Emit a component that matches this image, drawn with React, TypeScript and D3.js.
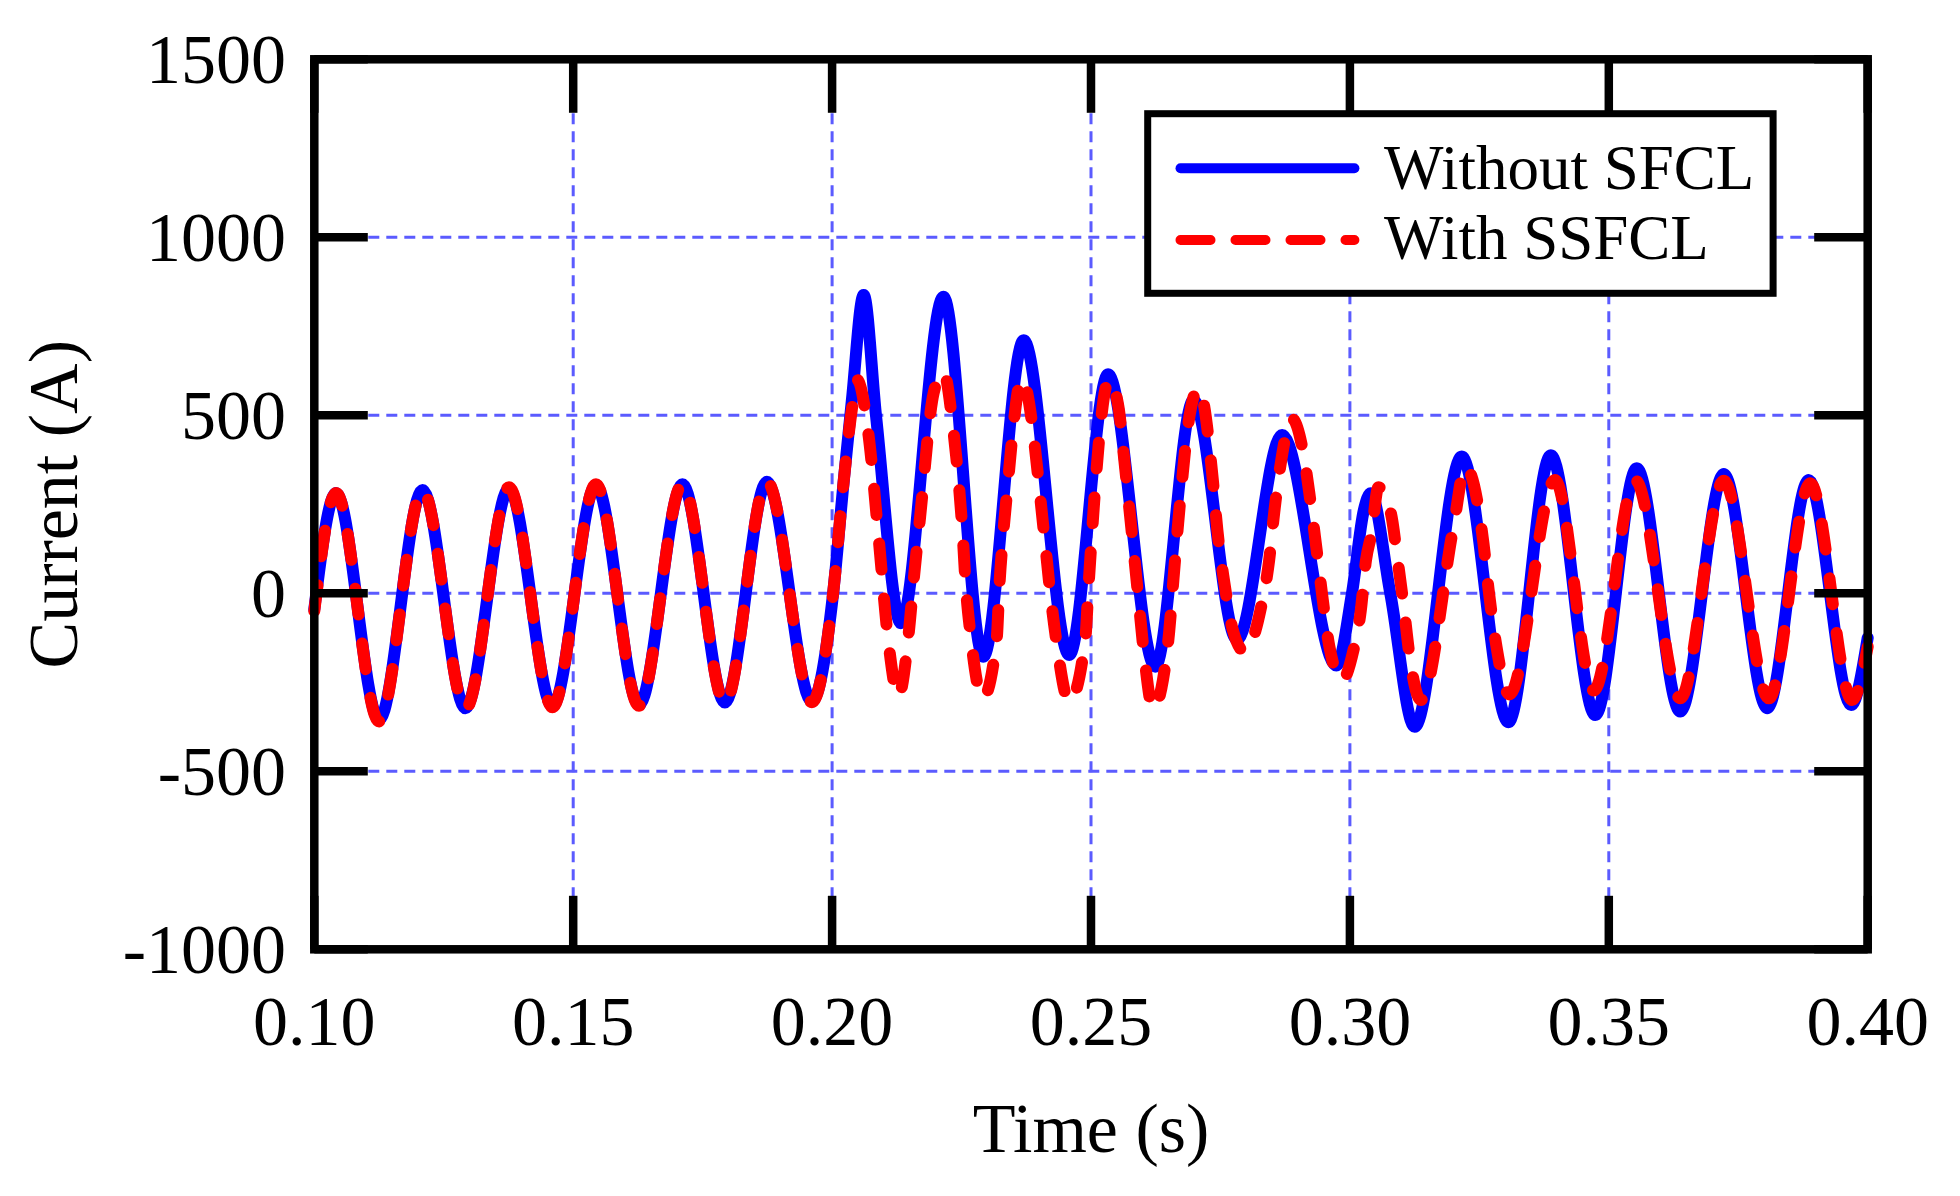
import * as d3 from "d3";

// time (s) / current (A)
const timeWithout = [
  0.1, 0.1042, 0.1125, 0.1209, 0.1292, 0.1376, 0.146, 0.1544, 0.1627, 0.1711, 0.1793, 0.1874, 0.1961,
  0.2002, 0.2022, 0.2038, 0.2061, 0.2085, 0.2133, 0.2215, 0.2292, 0.237, 0.2458, 0.2533, 0.2624, 0.2698,
  0.2782, 0.2869, 0.2974, 0.3004, 0.3027, 0.304, 0.3078, 0.3125, 0.3216, 0.3306, 0.3388, 0.3474, 0.3554,
  0.3638, 0.3722, 0.3806, 0.3886, 0.3968, 0.4,
];
const currentWithout = [
  -45, 282, -356, 290, -323, 295, -318, 304, -314, 306, -307, 313, -304,
  0, 309, 540, 838, 496, -84, 833, -178, 711, -173, 615, -206, 543,
  -131, 445, -203, 0, 234, 281, 0, -375, 384, -362, 388, -342, 351,
  -332, 335, -323, 318, -314, -125,
];

const timeWith = [
  0.1, 0.1042, 0.1125, 0.1209, 0.1292, 0.1376, 0.146, 0.1544, 0.1627, 0.1711, 0.1793, 0.1874, 0.1961,
  0.2002, 0.2022, 0.2038, 0.2048, 0.207, 0.2089, 0.2109, 0.2128, 0.2148, 0.2157, 0.217, 0.2196, 0.2215,
  0.2234, 0.2244, 0.2252, 0.2258, 0.2267, 0.2291, 0.2318, 0.2323, 0.233, 0.2339, 0.2348, 0.2366,
  0.2411, 0.2421, 0.2433, 0.2458, 0.2489, 0.2495, 0.2535, 0.2553, 0.2563, 0.2573, 0.2583, 0.2593,
  0.2603, 0.262, 0.2639, 0.2651, 0.2659, 0.2667, 0.2676, 0.2686, 0.2708, 0.2735, 0.2744, 0.2757,
  0.2773, 0.2797, 0.2828, 0.2844, 0.2854, 0.2867, 0.2888, 0.2909, 0.2923, 0.2935, 0.2947, 0.296,
  0.2985, 0.3007, 0.3021, 0.3031, 0.3042, 0.3055, 0.3079, 0.3092, 0.3104, 0.3115, 0.3137, 0.32,
  0.3223, 0.3258, 0.3268, 0.3281, 0.3308, 0.3396, 0.3471, 0.3551, 0.3638, 0.3722, 0.3809, 0.3889,
  0.397, 0.4,
];
const currentWith = [
  -50, 282, -360, 290, -325, 298, -320, 306, -316, 308, -310, 315, -306,
  0, 309, 515, 600, 449, 169, -140, -290, -112, 29, 215, 562, 622,
  459, 318, 169, 23, -112, -295, -126, 19, 159, 300, 440, 604,
  145, 5, -133, -305, -129, 15, 600, 524, 393, 253, 110, -36,
  -178, -325, -243, -108, 35, 175, 318, 456, 576, 323, 178, 35,
  -98, -164, -42, 92, 229, 370, 491, 402, 267, 131, -11, -147,
  -244, -159, -49, 92, 170, 298, 226, 95, -38, -173, -300, 187,
  356, 140, 9, -131, -284, 318, -273, 318, -295, 316, -295, 309,
  -300, -150,
];

const xTicks = [0.1, 0.15, 0.2, 0.25, 0.3, 0.35, 0.4];
const yTicks = [-1000, -500, 0, 500, 1000, 1500];
const seriesNames = ["Without SFCL", "With SSFCL"];

const W = 1960;
const H = 1196;
const plot = { left: 314.3, right: 1867.7, top: 59.3, bottom: 949.3 };
const font = "'Liberation Serif', 'Times New Roman', serif";
const gridColor = "#5b5bff";
const tickLen = 53.5;
const frameW = 8.5;

export default function App() {
  const x = d3.scaleLinear().domain([0.1, 0.4]).range([plot.left, plot.right]);
  const y = d3.scaleLinear().domain([-1000, 1500]).range([plot.bottom, plot.top]);

  const line = d3
    .line<number>()
    .x((t) => x(t))
    .curve(d3.curveMonotoneX);

  const blueD = line.y((_, i) => y(currentWithout[i]))(timeWithout) ?? "";
  const redD = line.y((_, i) => y(currentWith[i]))(timeWith) ?? "";

  const innerX = xTicks.slice(1, -1);
  const innerY = yTicks.slice(1, -1);

  return (
    <svg
      width={W}
      height={H}
      style={{ position: "absolute", left: 0, top: 0, display: "block", background: "#fff" }}
    >
      {/* grid */}
      <g stroke={gridColor} strokeWidth={3} strokeDasharray="11 7">
        {innerX.map((t) => (
          <line key={"gx" + t} x1={x(t)} x2={x(t)} y1={plot.top} y2={plot.bottom} />
        ))}
        {innerY.map((v) => (
          <line key={"gy" + v} x1={plot.left} x2={plot.right} y1={y(v)} y2={y(v)} />
        ))}
      </g>

      {/* traces */}
      <path d={blueD} fill="none" stroke="#0000ff" strokeWidth={12} strokeLinejoin="round" strokeLinecap="round" />
      <path
        d={redD}
        fill="none"
        stroke="#ff0000"
        strokeWidth={12}
        strokeDasharray="26 29"
        strokeLinejoin="round"
        strokeLinecap="round"
      />

      {/* ticks, all four sides */}
      <g stroke="#000" strokeWidth={frameW}>
        {xTicks.map((t) => (
          <g key={"tx" + t}>
            <line x1={x(t)} x2={x(t)} y1={plot.bottom} y2={plot.bottom - tickLen} />
            <line x1={x(t)} x2={x(t)} y1={plot.top} y2={plot.top + tickLen} />
          </g>
        ))}
        {yTicks.map((v) => (
          <g key={"ty" + v}>
            <line x1={plot.left} x2={plot.left + tickLen} y1={y(v)} y2={y(v)} />
            <line x1={plot.right} x2={plot.right - tickLen} y1={y(v)} y2={y(v)} />
          </g>
        ))}
      </g>
      <rect
        x={plot.left}
        y={plot.top}
        width={plot.right - plot.left}
        height={plot.bottom - plot.top}
        fill="none"
        stroke="#000"
        strokeWidth={frameW}
      />

      {/* tick labels */}
      <g fontFamily={font} fontSize={70} fill="#000">
        {xTicks.map((t) => (
          <text key={"lx" + t} x={x(t)} y={plot.bottom + 96} textAnchor="middle">
            {t.toFixed(2)}
          </text>
        ))}
        {yTicks.map((v) => (
          <text key={"ly" + v} x={286} y={y(v) + 23.5} textAnchor="end">
            {v}
          </text>
        ))}
        <text x={(plot.left + plot.right) / 2} y={1152} textAnchor="middle">
          Time (s)
        </text>
        <text transform={`translate(77,${(plot.top + plot.bottom) / 2}) rotate(-90)`} textAnchor="middle">
          Current (A)
        </text>
      </g>

      {/* legend */}
      <g>
        <rect x={1147.7} y={113.7} width={625.4} height={179.6} fill="#fff" stroke="#000" strokeWidth={7} />
        <line x1={1180.5} x2={1354.4} y1={168.3} y2={168.3} stroke="#0000ff" strokeWidth={10} strokeLinecap="round" />
        <line
          x1={1180.5}
          x2={1354.4}
          y1={240}
          y2={240}
          stroke="#ff0000"
          strokeWidth={10}
          strokeLinecap="round"
          strokeDasharray="30 25"
        />
        <text x={1384} y={189.3} fontFamily={font} fontSize={63} fill="#000">
          {seriesNames[0]}
        </text>
        <text x={1384} y={259.3} fontFamily={font} fontSize={63} fill="#000">
          {seriesNames[1]}
        </text>
      </g>
    </svg>
  );
}
